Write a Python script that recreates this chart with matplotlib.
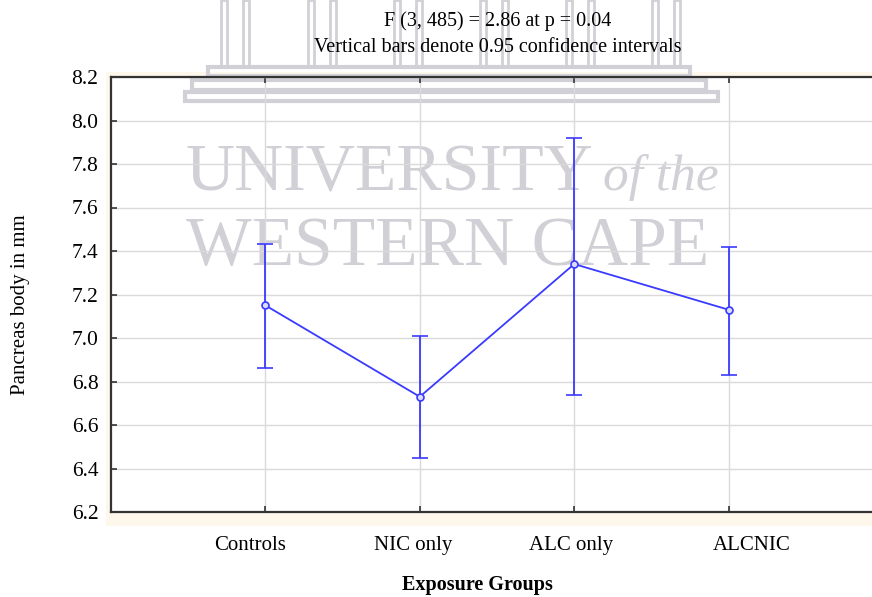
import matplotlib
matplotlib.use("Agg")
import matplotlib.pyplot as plt
from matplotlib.patches import Rectangle
from matplotlib.transforms import offset_copy, blended_transform_factory

# Pancreas body size by exposure group, means with 95% CI
groups = ["Controls", "NIC only", "ALC only", "ALCNIC"]
means = [7.15, 6.73, 7.34, 7.13]
ci_low = [6.86, 6.45, 6.74, 6.83]
ci_high = [7.43, 7.01, 7.92, 7.42]
yticks = [6.2, 6.4, 6.6, 6.8, 7.0, 7.2, 7.4, 7.6, 7.8, 8.0, 8.2]

W, H = 872, 597
plt.rcParams['font.family'] = ['Liberation Serif', 'DejaVu Serif']

fig = plt.figure(figsize=(W / 100, H / 100), dpi=100)
fig.patch.set_facecolor('white')


def fx(px):
    return px / W


def fy(py):
    return 1 - py / H


# beige frame behind the plot area
fig.patches.append(Rectangle((fx(106), fy(526)), fx(872 - 106), fy(72) - fy(526),
                             transform=fig.transFigure, facecolor='#fdf7ec',
                             edgecolor='none', zorder=-5))

ax = fig.add_axes([fx(111), fy(512), fx(883 - 111), fy(77) - fy(512)])
ax.set_facecolor('white')

x = list(range(1, len(groups) + 1))
yerr = [[m - lo for m, lo in zip(means, ci_low)],
        [hi - m for m, hi in zip(means, ci_high)]]
blue = '#3a3aff'
ax.errorbar(x, means, yerr=yerr, color=blue, lw=1.3, elinewidth=1.3,
            capsize=6, capthick=1.3, marker='o', ms=5, mfc='#dcdcff',
            mec=blue, mew=1.2, zorder=3)

ax.set_xlim(0, 5)
ax.set_ylim(6.2, 8.2)
ax.set_yticks(yticks)
ax.set_yticklabels([f"{v:.1f}" for v in yticks], fontsize=15.5)
ax.set_xticks(x)
ax.set_xticklabels([])
ax.tick_params(axis='y', direction='in', length=4, width=1.2, color='#333333', pad=9)
ax.tick_params(axis='x', direction='in', length=4, width=1.2, color='#333333',
               top=True, bottom=True)

ax.grid(True, color='#dadada', lw=1.0)
ax.set_axisbelow(True)
for side in ['left', 'top', 'bottom']:
    ax.spines[side].set_color('#333333')
    ax.spines[side].set_linewidth(1.6)
ax.spines['right'].set_visible(False)

# group labels under the axis, nudged a little sideways
nudges = [-15, -7, -3, 23]
trans = blended_transform_factory(ax.transData, ax.transAxes)
for xi, name, dx in zip(x, groups, nudges):
    t = offset_copy(trans, fig=fig, x=dx, y=0, units='dots')
    ax.text(xi, -0.076, name, transform=t, ha='center', va='center',
            fontsize=15, clip_on=False)

# faint university watermark
wm = '#d0d0d6'
ax.text(fx(186), fy(190), "UNIVERSITY", transform=fig.transFigure, fontsize=49,
        color=wm, ha='left', va='baseline', zorder=0.2)
ax.text(fx(603), fy(190), "of the", transform=fig.transFigure, fontsize=37,
        style='italic', color=wm, ha='left', va='baseline', zorder=0.2)
ax.text(fx(186), fy(265), "WESTERN CAPE", transform=fig.transFigure, fontsize=50,
        color=wm, ha='left', va='baseline', zorder=0.2)
for cx in [235, 322, 408, 494, 580, 666]:
    for off in (-14, 8):
        ax.add_patch(Rectangle((fx(cx + off), fy(67)), fx(6), fy(0) - fy(67),
                               transform=fig.transFigure, facecolor='none',
                               edgecolor=wm, lw=2, clip_on=False, zorder=0.2))
for x0, x1, y0, y1 in [(208, 690, 67, 76), (192, 706, 80, 90), (185, 718, 92, 101)]:
    ax.add_patch(Rectangle((fx(x0), fy(y1)), fx(x1 - x0), fy(y0) - fy(y1),
                           transform=fig.transFigure, facecolor='none',
                           edgecolor=wm, lw=3, clip_on=False, zorder=0.2))

fig.text(fx(498), fy(26), "F (3, 485) = 2.86 at p = 0.04", ha='center',
         va='baseline', fontsize=14.5)
fig.text(fx(498), fy(52), "Vertical bars denote 0.95 confidence intervals",
         ha='center', va='baseline', fontsize=14.5)
fig.text(fx(20), fy(305), "Pancreas body in mm", rotation=90, ha='center',
         va='center', fontsize=15)
fig.text(fx(477), fy(585), "Exposure Groups", ha='center', va='center',
         fontsize=14.5, fontweight='bold')

fig.savefig("out.png", dpi=100)
